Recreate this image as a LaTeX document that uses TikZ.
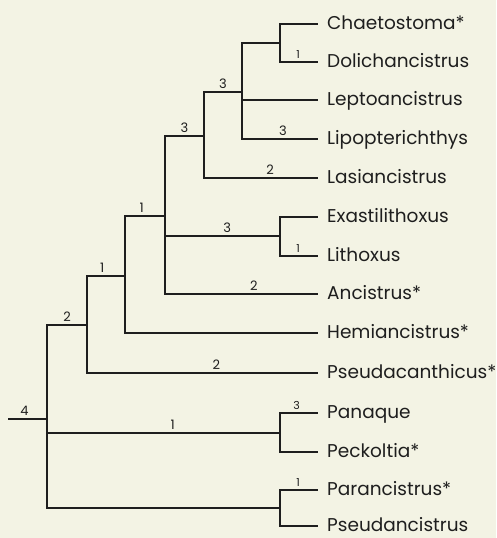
\documentclass[tikz,border=0pt]{standalone}
\usepackage{fontspec}
\setmainfont{Poppins}
\usepackage{xcolor}
\usepackage{tikz}
\usetikzlibrary{positioning}
\definecolor{paper}{RGB}{243,243,228}
\definecolor{ink}{RGB}{30,30,30}

\begin{document}
\begin{tikzpicture}[x=1pt, y=-1pt,
    taxon/.style={anchor=west, inner xsep=9pt, inner ysep=0pt, text height=10pt, text depth=0pt, font=\fontsize{18.5}{20}\selectfont, text=ink},
    branch/.style={draw=ink, line width=1.2pt},
    support/.style={above, pos=0.75, inner sep=3pt, font=\fontsize{13}{14}\selectfont, text=ink}]
  \fill[paper] (0,0) rectangle (496,538);
  \useasboundingbox (0,0) rectangle (496,538);
  % taxa
  \node[taxon] (chae) at (318,24) {Chaetostoma*};
  \node[taxon] (doli) at (318,62) {Dolichancistrus};
  \node[taxon] (lept) at (318,100) {Leptoancistrus};
  \node[taxon] (lipo) at (318,139) {Lipopterichthys};
  \node[taxon] (lasi) at (318,178) {Lasiancistrus};
  \node[taxon] (exas) at (318,217) {Exastilithoxus};
  \node[taxon] (lith) at (318,256) {Lithoxus};
  \node[taxon] (anci) at (318,294) {Ancistrus*};
  \node[taxon] (hemi) at (318,333) {Hemiancistrus*};
  \node[taxon] (psac) at (318,373) {Pseudacanthicus*};
  \node[taxon] (pana) at (318,413) {Panaque};
  \node[taxon] (peck) at (318,452) {Peckoltia*};
  \node[taxon] (para) at (318,490) {Parancistrus*};
  \node[taxon] (psan) at (318,526) {Pseudancistrus};
  % internal nodes
  \coordinate (chdo) at (280,43);
  \coordinate (cladeA) at (242,92);
  \coordinate (cladeB) at (204,136);
  \coordinate (exli) at (280,236);
  \coordinate (cladeC) at (165,216);
  \coordinate (cladeD) at (125,276);
  \coordinate (cladeE) at (87,325);
  \coordinate (pape) at (280,433);
  \coordinate (paps) at (280,508);
  \coordinate (rootn) at (47,419);
  \coordinate (stem) at (8,419);
  % branches
  \draw[branch] (chdo) |- (chae);
  \draw[branch] (chdo) |- node[support, pos=0.74, font=\fontsize{11}{12}\selectfont] {1} (doli);
  \draw[branch] (cladeA) |- (chdo);
  \draw[branch] (cladeA) |- (lept);
  \draw[branch] (cladeA) |- node[support, pos=0.77] {3} (lipo);
  \draw[branch] (cladeB) |- node[support] {3} (cladeA);
  \draw[branch] (cladeB) |- node[support, pos=0.79] {2} (lasi);
  \draw[branch] (exli) |- (exas);
  \draw[branch] (exli) |- node[support, pos=0.74, font=\fontsize{11}{12}\selectfont] {1} (lith);
  \draw[branch] (cladeC) |- node[support] {3} (cladeB);
  \draw[branch] (cladeC) |- node[support, pos=0.77] {3} (exli);
  \draw[branch] (cladeC) |- node[support, pos=0.79] {2} (anci);
  \draw[branch] (cladeD) |- node[support, pos=0.71] {1} (cladeC);
  \draw[branch] (cladeD) |- (hemi);
  \draw[branch] (cladeE) |- node[support, pos=0.7] {1} (cladeD);
  \draw[branch] (cladeE) |- node[support, pos=0.78] {2} (psac);
  \draw[branch] (pape) |- node[support, pos=0.72, font=\fontsize{11}{12}\selectfont] {3} (pana);
  \draw[branch] (pape) |- (peck);
  \draw[branch] (paps) |- node[support, pos=0.74, font=\fontsize{11}{12}\selectfont] {1} (para);
  \draw[branch] (paps) |- (psan);
  \draw[branch] (rootn) |- node[support] {2} (cladeE);
  \draw[branch] (rootn) |- node[support, pos=0.77] {1} (pape);
  \draw[branch] (rootn) |- (paps);
  \draw[branch] (stem) -- node[support, pos=0.42] {4} (rootn);
\end{tikzpicture}
\end{document}
